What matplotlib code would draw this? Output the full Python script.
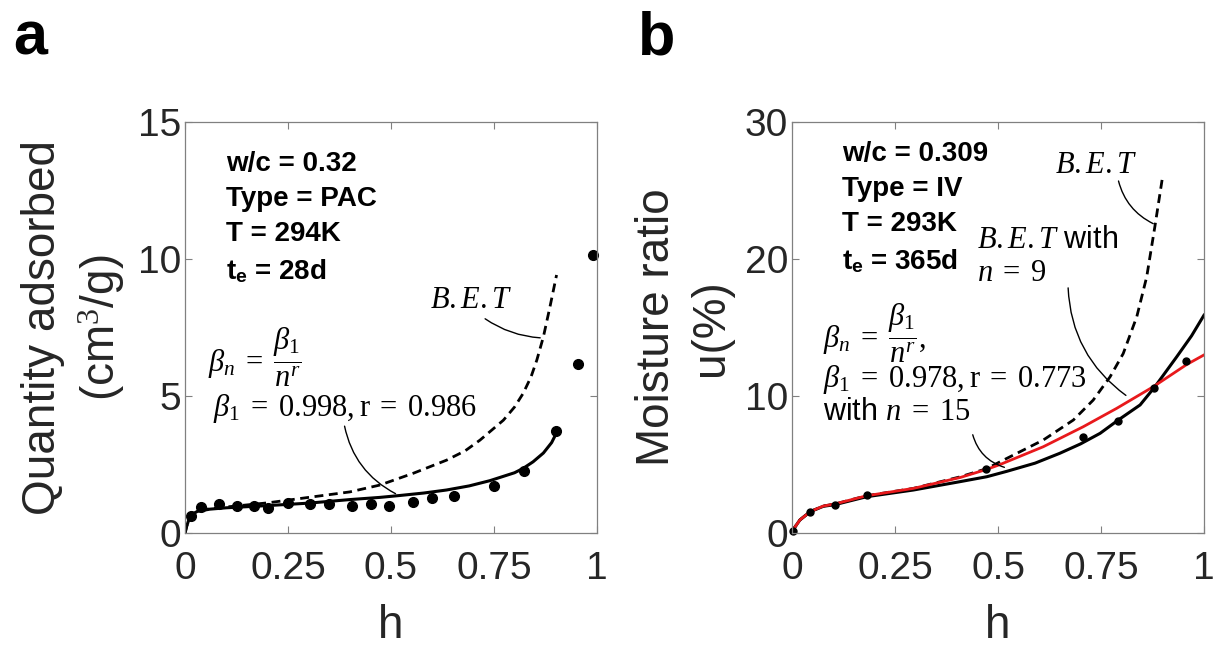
import matplotlib.pyplot as plt

plt.rcParams['font.family'] = ['Liberation Sans', 'DejaVu Sans']
plt.rcParams['mathtext.fontset'] = 'custom'
plt.rcParams['mathtext.rm'] = 'Liberation Serif'
plt.rcParams['mathtext.it'] = 'Liberation Serif:italic'
plt.rcParams['mathtext.bf'] = 'Liberation Sans:bold'
plt.rcParams['mathtext.sf'] = 'Liberation Sans'

# panel a - measured points
a_h = [0.014, 0.038, 0.083, 0.127, 0.168, 0.202, 0.251, 0.304, 0.35, 0.406,
       0.451, 0.496, 0.553, 0.6, 0.652, 0.751, 0.824, 0.901, 0.953, 0.99]
a_q = [0.63, 0.95, 1.07, 1.0, 1.0, 0.91, 1.09, 1.07, 1.07, 0.97,
       1.07, 1.0, 1.15, 1.26, 1.34, 1.70, 2.25, 3.71, 6.16, 10.15]
# panel a - fitted model (solid)
a_fit_h = [0, 0.004, 0.008, 0.016, 0.03, 0.06, 0.1, 0.2, 0.3, 0.4, 0.473, 0.522,
           0.58, 0.635, 0.69, 0.74, 0.8, 0.821, 0.845, 0.87, 0.89, 0.9]
a_fit_q = [0, 0.25, 0.43, 0.67, 0.79, 0.87, 0.92, 1.0, 1.09, 1.22, 1.3, 1.37,
           1.46, 1.57, 1.72, 1.91, 2.2, 2.36, 2.6, 2.92, 3.3, 3.6]
# panel a - B.E.T (dashed)
a_bet_h = [0, 0.004, 0.008, 0.016, 0.03, 0.06, 0.1, 0.2, 0.25, 0.3, 0.4, 0.473, 0.554,
           0.635, 0.68, 0.716, 0.773, 0.8, 0.821, 0.84, 0.854, 0.87, 0.886, 0.902]
a_bet_q = [0, 0.25, 0.43, 0.67, 0.80, 0.89, 0.95, 1.1, 1.2, 1.3, 1.5, 1.75, 2.18,
           2.66, 3.0, 3.39, 4.12, 4.6, 5.1, 5.7, 6.31, 7.16, 8.26, 9.42]

# panel b - measured points
b_h = [0.002, 0.044, 0.105, 0.182, 0.471, 0.706, 0.791, 0.879, 0.956]
b_u = [0.12, 1.53, 2.06, 2.74, 4.69, 7.0, 8.19, 10.57, 12.56]
# panel b - model with n = 15 (solid black)
b_fit_h = [0, 0.005, 0.019, 0.044, 0.076, 0.104, 0.181, 0.295, 0.408, 0.473, 0.521,
           0.59, 0.65, 0.7, 0.748, 0.792, 0.845, 0.881, 0.934, 0.97, 1.0]
b_fit_u = [0, 0.35, 0.95, 1.56, 1.95, 2.07, 2.65, 3.14, 3.75, 4.11, 4.5,
           5.1, 5.82, 6.5, 7.28, 8.25, 9.35, 10.68, 12.87, 14.4, 15.9]
# panel b - B.E.T with n = 9 (red)
b_red_h = [0, 0.005, 0.019, 0.044, 0.076, 0.104, 0.181, 0.295, 0.408, 0.473, 0.505,
           0.61, 0.707, 0.788, 0.877, 0.958, 1.0]
b_red_u = [0, 0.35, 0.95, 1.56, 1.97, 2.12, 2.72, 3.26, 4.05, 4.65, 5.0,
           6.3, 7.76, 9.1, 10.68, 12.3, 13.0]
# panel b - B.E.T (dashed)
b_bet_h = [0, 0.005, 0.019, 0.044, 0.076, 0.104, 0.181, 0.295, 0.408, 0.473, 0.505,
           0.61, 0.683, 0.731, 0.772, 0.804, 0.837, 0.861, 0.881, 0.9]
b_bet_u = [0, 0.35, 0.95, 1.56, 1.97, 2.12, 2.72, 3.26, 4.1, 4.7, 5.2,
           6.79, 8.25, 9.7, 11.4, 13.1, 15.8, 18.7, 22.4, 26.1]

xticks = [0, 0.25, 0.5, 0.75, 1]
xticklabels = ['0', '0.25', '0.5', '0.75', '1']

fig = plt.figure(figsize=(12.15, 6.47), dpi=100)
axa = fig.add_axes([0.1523, 0.1762, 0.339, 0.635])
axb = fig.add_axes([0.6519, 0.1762, 0.339, 0.635])


def style(ax, ymax, yticks):
    ax.set_xlim(0, 1)
    ax.set_ylim(0, ymax)
    ax.set_xticks(xticks)
    ax.set_xticklabels(xticklabels)
    ax.set_yticks(yticks)
    ax.tick_params(direction='in', top=True, right=True, length=5, width=0.8,
                   color='#808080', labelsize=28, labelcolor='#262626')
    ax.tick_params(axis='y', pad=3)
    ax.tick_params(axis='x', pad=13)
    for s in ax.spines.values():
        s.set_color('#808080')
        s.set_linewidth(0.9)
    ax.set_xlabel('h', fontsize=33, color='#262626', labelpad=12)


box = dict(fontsize=20, fontweight='bold', va='top', linespacing=1.45)
eq = dict(fontsize=22, va='center')
arc = dict(arrowstyle='-', color='k', lw=1)

# ---- panel a
style(axa, 15, [0, 5, 10, 15])
axa.plot(a_bet_h, a_bet_q, 'k--', lw=2, dashes=(3.2, 2))
axa.plot(a_fit_h, a_fit_q, 'k-', lw=2.2)
axa.plot(a_h, a_q, 'ko', ms=7, clip_on=False)
axa.set_ylabel('Quantity adsorbed\n(cm$^3$/g)', fontsize=33, color='#262626',
               linespacing=1.3, labelpad=8)
axa.text(0.1, 13.95, 'w/c = 0.32\nType = PAC\nT = 294K\nt$_\\mathbf{e}$ = 28d', **box)
axa.text(0.595, 8.5, '$B.E.T$', **eq)
axa.annotate('', xy=(0.869, 7.12), xytext=(0.723, 7.88),
             arrowprops=dict(arc, connectionstyle='arc3,rad=0.15'))
axa.text(0.056, 6.4, r'$\beta_n\;=\;\dfrac{\beta_1}{n^r}$', **eq)
axa.text(0.068, 4.55, r'$\beta_1\;=\;0.998,\mathrm{r}\;=\;0.986$', **eq)
axa.annotate('', xy=(0.517, 1.39), xytext=(0.386, 4.0),
             arrowprops=dict(arc, connectionstyle='arc3,rad=0.25'))

# ---- panel b
style(axb, 30, [0, 10, 20, 30])
axb.plot(b_bet_h, b_bet_u, 'k--', lw=2, dashes=(3.2, 2))
axb.plot(b_fit_h, b_fit_u, 'k-', lw=2.2)
axb.plot(b_red_h, b_red_u, '-', color='#e8191c', lw=2)
axb.plot(b_h, b_u, 'ko', ms=5, clip_on=False)
axb.set_ylabel('Moisture ratio\nu(%)', fontsize=33, color='#262626',
               linespacing=1.3, labelpad=8)
axb.text(0.121, 28.6, 'w/c = 0.309\nType = IV\nT = 293K\nt$_\\mathbf{e}$ = 365d', **box)
axb.text(0.638, 26.9, '$B.E.T$', **eq)
axb.annotate('', xy=(0.883, 22.5), xytext=(0.791, 25.9),
             arrowprops=dict(arc, connectionstyle='arc3,rad=0.25'))
axb.text(0.449, 21.4, '$B.E.T$ with', **eq)
axb.text(0.449, 19.0, '$n\\;=\\;9$', **eq)
axb.annotate('', xy=(0.816, 9.93), xytext=(0.67, 18.1),
             arrowprops=dict(arc, connectionstyle='arc3,rad=0.25'))
axb.text(0.075, 14.6, r'$\beta_n\;=\;\dfrac{\beta_1}{n^r},$', **eq)
axb.text(0.075, 11.2, r'$\beta_1\;=\;0.978,\mathrm{r}\;=\;0.773$', **eq)
axb.text(0.075, 8.8, 'with $n\\;=\\;15$', **eq)
axb.annotate('', xy=(0.522, 4.74), xytext=(0.437, 7.37),
             arrowprops=dict(arc, connectionstyle='arc3,rad=0.3'))

fig.text(0.011, 0.915, 'a', fontsize=44, fontweight='bold', va='baseline')
fig.text(0.525, 0.915, 'b', fontsize=44, fontweight='bold', va='baseline')

fig.savefig('out.png', dpi=100)
